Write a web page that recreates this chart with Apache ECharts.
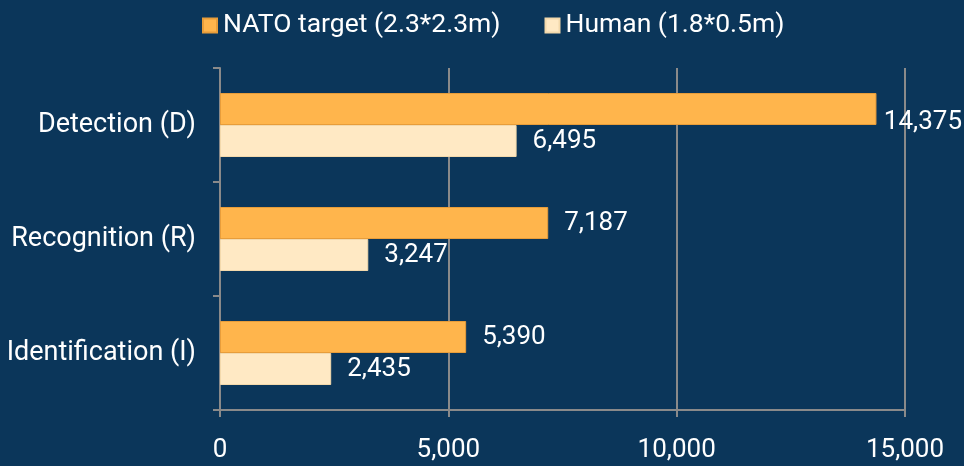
<!DOCTYPE html>
<html><head><meta charset="utf-8">
<script src="https://cdn.jsdelivr.net/npm/echarts@6/dist/echarts.min.js"></script>
<style>html,body{margin:0;padding:0;background:#0b365a;}#c{width:964px;height:466px;}</style>
</head><body><div id="c"></div>
<script>
const categories = ['Detection (D)', 'Recognition (R)', 'Identification (I)'];
const seriesNames = ['NATO target (2.3*2.3m)', 'Human (1.8*0.5m)'];
const natoValues = [14375, 7187, 5390];
const humanValues = [6495, 3247, 2435];
const xTicks = [0, 5000, 10000, 15000];

const chart = echarts.init(document.getElementById('c'));
const fmt = v => Number(v).toLocaleString('en-US');
const lbl = {show: true, position: 'right', color: '#ffffff', fontSize: 26, fontFamily: 'Roboto', distance: 16, formatter: p => fmt(p.value)};
const fitLayout = params => {
  const r = params.labelRect;
  if (r.x + r.width > 962) return {x: 962 - r.width};
  return {};
};
chart.setOption({
  backgroundColor: '#0b365a',
  textStyle: {fontFamily: 'Roboto'},
  legend: {
    top: 7, left: 197, itemWidth: 14, itemHeight: 14, itemGap: 44,
    icon: 'rect',
    textStyle: {color: '#ffffff', fontSize: 26.5, fontFamily: 'Roboto', padding: [0, 0, 0, 1]},
    data: seriesNames
  },
  grid: {left: 220, right: 59, top: 68, bottom: 56, containLabel: false},
  xAxis: {
    type: 'value', min: xTicks[0], max: xTicks[xTicks.length - 1], interval: 5000,
    axisLine: {show: true, lineStyle: {color: '#8a8a8a', width: 2}},
    axisTick: {show: true, length: 7, lineStyle: {color: '#8a8a8a', width: 2}},
    splitLine: {show: true, lineStyle: {color: '#8a8a8a', width: 2}},
    axisLabel: {color: '#ffffff', fontSize: 26, margin: 27, formatter: v => fmt(v)}
  },
  yAxis: {
    type: 'category', inverse: true, data: categories,
    axisLine: {show: true, lineStyle: {color: '#8a8a8a', width: 2}},
    axisTick: {show: true, length: 7, lineStyle: {color: '#8a8a8a', width: 2}},
    axisLabel: {color: '#ffffff', fontSize: 27, margin: 24}
  },
  series: [
    {name: seriesNames[0], type: 'bar', data: natoValues, barWidth: 32, barGap: '0%', barCategoryGap: '43%',
     itemStyle: {color: '#ffb54c', borderColor: '#e89d3a', borderWidth: 1}, label: lbl, labelLayout: fitLayout},
    {name: seriesNames[1], type: 'bar', data: humanValues, barWidth: 32, barGap: '0%',
     itemStyle: {color: '#ffe9c4', borderColor: '#f3d9ac', borderWidth: 1}, label: lbl, labelLayout: fitLayout}
  ]
});
</script></body></html>
